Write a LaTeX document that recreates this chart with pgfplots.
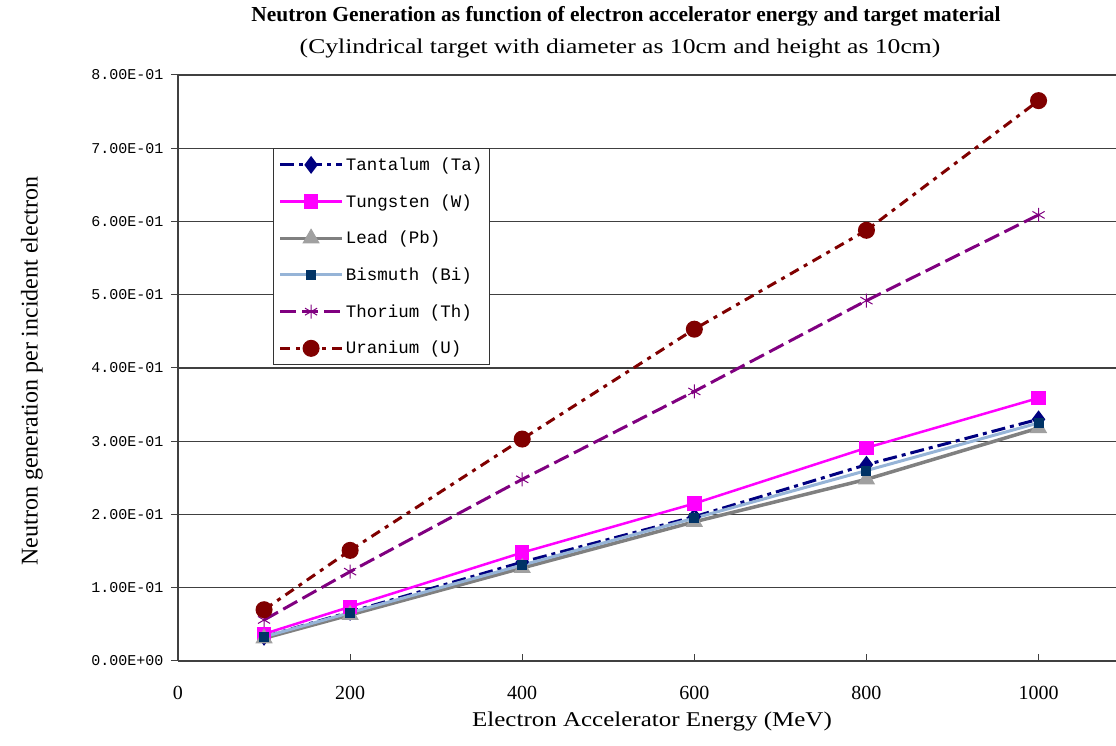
\documentclass[border=0pt]{standalone}
\usepackage{fontspec}
\setmainfont{Liberation Serif}
\setmonofont{Liberation Mono}
\usepackage{pgfplots}
\pgfplotsset{compat=1.18}
\definecolor{taC}{RGB}{0,0,128}
\definecolor{wC}{RGB}{255,0,255}
\definecolor{pbC}{RGB}{128,128,128}
\definecolor{pbM}{RGB}{160,160,160}
\definecolor{biC}{RGB}{150,180,215}
\definecolor{biM}{RGB}{0,51,102}
\definecolor{thC}{RGB}{128,0,128}
\definecolor{uC}{RGB}{128,0,0}
\begin{document}
\begin{tikzpicture}
\useasboundingbox (-178pt,-85pt) rectangle (938pt,661pt);
\begin{axis}[
  scale only axis, width=938pt, height=586pt,
  xmin=0, xmax=1090, ymin=0, ymax=0.8,
  axis lines*=left,
  axis line style={black!75, line width=1.2pt},
  xtick={0,200,400,600,800,1000},
  xticklabels={0,200,400,600,800,1000},
  ytick={0,0.1,0.2,0.3,0.4,0.5,0.6,0.7,0.8},
  yticklabels={0.00E+00,1.00E-01,2.00E-01,3.00E-01,4.00E-01,5.00E-01,6.00E-01,7.00E-01,8.00E-01},
  xtick align=inside, ytick align=outside,
  major tick length=7pt,
  tick style={black!75, line width=1pt},
  ymajorgrids, grid style={black!75, line width=1.2pt},
  yticklabel style={font=\ttfamily\fontsize{15}{15}\selectfont, xshift=-4pt},
  xticklabel style={font=\fontsize{20}{20}\selectfont, yshift=-22pt},
  legend style={at={(rel axis cs:0.101,0.875)}, anchor=north west,
    draw=black!80, line width=1.2pt, fill=white,
    font=\ttfamily\fontsize{17.5}{17.5}\selectfont,
    row sep=18.5pt, inner xsep=5pt, inner ysep=7pt},
  legend cell align=left,
  legend image code/.code={\draw[mark repeat=2,mark phase=2,#1] plot coordinates {(0pt,0pt) (31pt,0pt) (62pt,0pt)};},
]
\addplot[color=taC, line width=3pt, dash pattern=on 14pt off 5pt on 4pt off 5pt,
  mark=diamond*, mark size=6.5pt, mark options={solid, fill=taC}]
  coordinates {(100,0.033) (200,0.067) (400,0.135) (600,0.197) (800,0.268) (1000,0.330)};
\addlegendentry{Tantalum (Ta)}
\addplot[color=wC, line width=2.5pt,
  mark=square*, mark size=6pt, mark options={solid, fill=wC}]
  coordinates {(100,0.037) (200,0.074) (400,0.148) (600,0.215) (800,0.291) (1000,0.359)};
\addlegendentry{Tungsten (W)}
\addplot[color=pbC, line width=3.5pt,
  mark=triangle*, mark size=6.5pt, mark options={solid, fill=pbM, draw=pbM}]
  coordinates {(100,0.031) (200,0.063) (400,0.127) (600,0.190) (800,0.248) (1000,0.318)};
\addlegendentry{Lead (Pb)}
\addplot[color=biC, line width=3pt,
  mark=square*, mark size=3.5pt, mark options={solid, fill=biM, draw=biM}]
  coordinates {(100,0.033) (200,0.066) (400,0.131) (600,0.195) (800,0.260) (1000,0.325)};
\addlegendentry{Bismuth (Bi)}
\addplot[color=thC, line width=3pt, dash pattern=on 16pt off 6pt,
  mark=asterisk, mark size=7pt, mark options={solid, line width=1pt}]
  coordinates {(100,0.056) (200,0.122) (400,0.248) (600,0.368) (800,0.492) (1000,0.609)};
\addlegendentry{Thorium (Th)}
\addplot[color=uC, line width=3pt, dash pattern=on 10pt off 6pt on 4pt off 6pt,
  mark=*, mark size=7pt, mark options={solid, fill=uC}]
  coordinates {(100,0.070) (200,0.151) (400,0.303) (600,0.453) (800,0.588) (1000,0.765)};
\addlegendentry{Uranium (U)}
\end{axis}
\node[font=\bfseries\fontsize{21.4}{21.4}\selectfont] at (448pt,645pt) {Neutron Generation as function of electron accelerator energy and target material};
\node[font=\fontsize{21}{21}\selectfont, xscale=1.22] at (442pt,613pt) {(Cylindrical target with diameter as 10cm and height as 10cm)};
\node[font=\fontsize{21}{21}\selectfont, xscale=1.19] at (474pt,-60pt) {Electron Accelerator Energy (MeV)};
\node[font=\fontsize{24}{24}\selectfont, rotate=90] at (-146pt,290pt) {Neutron generation per incident electron};
\end{tikzpicture}
\end{document}
